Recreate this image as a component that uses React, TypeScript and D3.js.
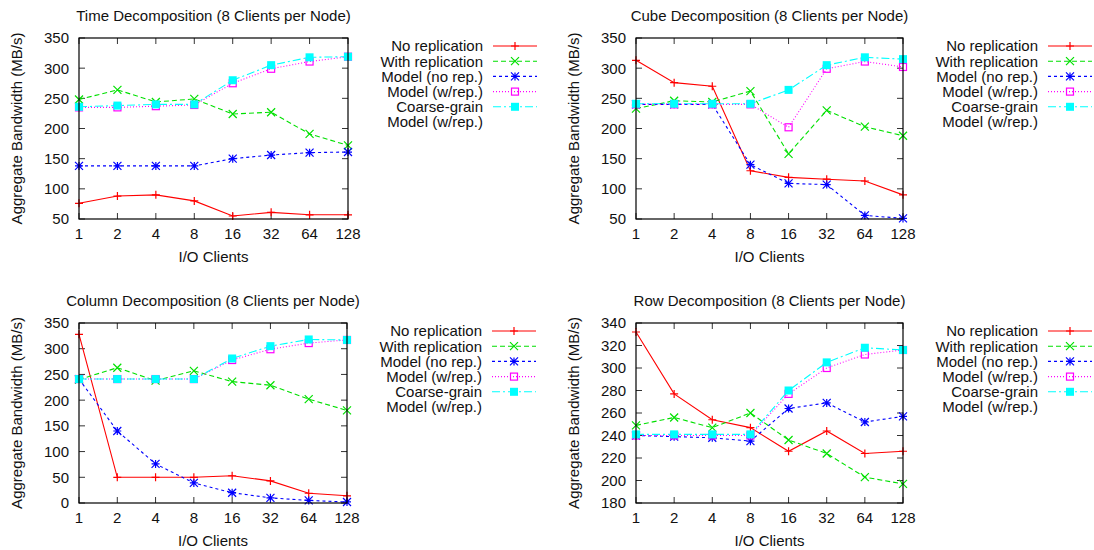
import React from "react";
import * as d3 from "d3";

const xLabels = ["1", "2", "4", "8", "16", "32", "64", "128"];
const seriesNames = ["No replication", "With replication", "Model (no rep.)", "Model (w/rep.)", "Coarse-grain"];
const legendExtra = "Model (w/rep.)";

const timeNoRep = [76, 88, 90, 80, 55, 61, 57, 57];
const timeWithRep = [248, 264, 244, 249, 224, 227, 191, 172];
const timeModelNoRep = [138, 138, 138, 138, 150, 156, 160, 161];
const timeModelRep = [235, 235, 237, 239, 275, 299, 311, 319];
const timeCoarse = [236, 238, 240, 240, 280, 305, 318, 319];

const cubeNoRep = [313, 276, 270, 130, 119, 116, 113, 90];
const cubeWithRep = [233, 246, 244, 262, 158, 230, 203, 188];
const cubeModelNoRep = [240, 240, 240, 140, 109, 107, 56, 51];
const cubeModelRep = [240, 240, 240, 240, 202, 299, 311, 302];
const cubeCoarse = [241, 241, 241, 241, 264, 305, 318, 315];

const colNoRep = [328, 50, 50, 50, 53, 43, 19, 14];
const colWithRep = [240, 263, 238, 257, 236, 229, 202, 180];
const colModelNoRep = [241, 140, 76, 39, 20, 10, 5, 2];
const colModelRep = [241, 241, 241, 241, 278, 299, 311, 317];
const colCoarse = [241, 241, 241, 241, 281, 305, 318, 317];

const rowNoRep = [332, 277, 254, 247, 226, 244, 224, 226];
const rowWithRep = [249, 256, 247, 260, 236, 224, 203, 197];
const rowModelNoRep = [240, 239, 238, 235, 264, 269, 252, 257];
const rowModelRep = [240, 240, 240, 240, 277, 300, 312, 316];
const rowCoarse = [241, 241, 241, 241, 280, 305, 318, 316];

const timeTicks = [50, 100, 150, 200, 250, 300, 350];
const cubeTicks = [50, 100, 150, 200, 250, 300, 350];
const colTicks = [0, 50, 100, 150, 200, 250, 300, 350];
const rowTicks = [180, 200, 220, 240, 260, 280, 300, 320, 340];

const styles = [
  { color: "#ff0000", dash: "", marker: "plus" },
  { color: "#00e000", dash: "5,3", marker: "cross" },
  { color: "#0000ff", dash: "3,3", marker: "star" },
  { color: "#ff00ff", dash: "1,2", marker: "box" },
  { color: "#00ffff", dash: "8,3,2,3", marker: "fbox" },
];

const FONT = "'Liberation Sans', Arial, Helvetica, sans-serif";

function Marker({ type, x, y, color }: { type: string; x: number; y: number; color: string }) {
  const s = 4;
  if (type === "plus")
    return <path d={`M${x - s},${y}H${x + s}M${x},${y - s}V${y + s}`} stroke={color} strokeWidth={1.2} fill="none" />;
  if (type === "cross")
    return <path d={`M${x - s},${y - s}L${x + s},${y + s}M${x - s},${y + s}L${x + s},${y - s}`} stroke={color} strokeWidth={1.2} fill="none" />;
  if (type === "star")
    return (
      <path
        d={`M${x - s},${y}H${x + s}M${x},${y - s}V${y + s}M${x - s},${y - s}L${x + s},${y + s}M${x - s},${y + s}L${x + s},${y - s}`}
        stroke={color}
        strokeWidth={1.2}
        fill="none"
      />
    );
  if (type === "box")
    return <rect x={x - 3.5} y={y - 3.5} width={7} height={7} stroke={color} strokeWidth={1.2} fill="none" />;
  return <rect x={x - 4} y={y - 4} width={8} height={8} fill={color} />;
}

type PanelProps = {
  title: string;
  x0: number;
  x1: number;
  y0: number;
  y1: number;
  domain: [number, number];
  ticks: number[];
  series: number[][];
};

function Panel({ title, x0, x1, y0, y1, domain, ticks, series }: PanelProps) {
  const xs = d3.scalePoint<string>().domain(xLabels).range([x0, x1]);
  const ys = d3.scaleLinear().domain(domain).range([y1, y0]);
  const line = d3
    .line<number>()
    .x((_, i) => xs(xLabels[i]) as number)
    .y((d) => ys(d));
  const tl = 6;
  const legX = x1 + 135;
  const legY = y0 + 8;
  const rowH = 15.2;
  return (
    <g fontFamily={FONT}>
      <text x={(x0 + x1) / 2} y={y0 - 17} textAnchor="middle" fontSize={15} fill="#111">
        {title}
      </text>
      {ticks.map((t) => (
        <g key={"y" + t}>
          <line x1={x0} x2={x0 + tl} y1={ys(t)} y2={ys(t)} stroke="#333" strokeWidth={1} />
          <line x1={x1} x2={x1 - tl} y1={ys(t)} y2={ys(t)} stroke="#333" strokeWidth={1} />
          <text x={x0 - 10} y={ys(t)} dy="0.36em" textAnchor="end" fontSize={15} fill="#111">
            {t}
          </text>
        </g>
      ))}
      {xLabels.map((l) => (
        <g key={"x" + l}>
          <line x1={xs(l)} x2={xs(l)} y1={y1} y2={y1 - tl} stroke="#333" strokeWidth={1} />
          <line x1={xs(l)} x2={xs(l)} y1={y0} y2={y0 + tl} stroke="#333" strokeWidth={1} />
          <text x={xs(l)} y={y1 + 20} textAnchor="middle" fontSize={15} fill="#111">
            {l}
          </text>
        </g>
      ))}
      <text x={(x0 + x1) / 2} y={y1 + 43} textAnchor="middle" fontSize={15} fill="#111">
        I/O Clients
      </text>
      <text
        transform={`translate(${x0 - 62},${(y0 + y1) / 2}) rotate(-90)`}
        textAnchor="middle"
        dy="0.36em"
        fontSize={15}
        fill="#111"
      >
        Aggregate Bandwidth (MB/s)
      </text>
      {series.map((vals, si) => {
        const st = styles[si];
        return (
          <g key={"s" + si}>
            <path d={line(vals) as string} fill="none" stroke={st.color} strokeWidth={1.1} strokeDasharray={st.dash} />
            {vals.map((v, i) => (
              <Marker key={i} type={st.marker} x={xs(xLabels[i]) as number} y={ys(v)} color={st.color} />
            ))}
          </g>
        );
      })}
      <rect x={x0} y={y0} width={x1 - x0} height={y1 - y0} fill="none" stroke="#000" strokeWidth={1.2} />
      {seriesNames.map((n, si) => {
        const st = styles[si];
        const yy = legY + si * rowH;
        return (
          <g key={"l" + si}>
            <text x={legX} y={yy} dy="0.36em" textAnchor="end" fontSize={15} fill="#111">
              {n}
            </text>
            <line x1={legX + 10} x2={legX + 54} y1={yy} y2={yy} stroke={st.color} strokeWidth={1.1} strokeDasharray={st.dash} />
            <Marker type={st.marker} x={legX + 32} y={yy} color={st.color} />
          </g>
        );
      })}
      <text x={legX} y={legY + 5 * rowH} dy="0.36em" textAnchor="end" fontSize={15} fill="#111">
        {legendExtra}
      </text>
    </g>
  );
}

export default function App() {
  return (
    <svg width={1094} height={550} style={{ position: "absolute", left: 0, top: 0, background: "#fff" }}>
      <rect width={1094} height={550} fill="#fff" />
      <Panel
        title="Time Decomposition (8 Clients per Node)"
        x0={79}
        x1={348}
        y0={38}
        y1={219}
        domain={[50, 350]}
        ticks={timeTicks}
        series={[timeNoRep, timeWithRep, timeModelNoRep, timeModelRep, timeCoarse]}
      />
      <Panel
        title="Cube Decomposition (8 Clients per Node)"
        x0={636}
        x1={903}
        y0={38}
        y1={219}
        domain={[50, 350]}
        ticks={cubeTicks}
        series={[cubeNoRep, cubeWithRep, cubeModelNoRep, cubeModelRep, cubeCoarse]}
      />
      <Panel
        title="Column Decomposition (8 Clients per Node)"
        x0={79}
        x1={347}
        y0={323}
        y1={503}
        domain={[0, 350]}
        ticks={colTicks}
        series={[colNoRep, colWithRep, colModelNoRep, colModelRep, colCoarse]}
      />
      <Panel
        title="Row Decomposition (8 Clients per Node)"
        x0={636}
        x1={903}
        y0={323}
        y1={503}
        domain={[180, 340]}
        ticks={rowTicks}
        series={[rowNoRep, rowWithRep, rowModelNoRep, rowModelRep, rowCoarse]}
      />
    </svg>
  );
}
